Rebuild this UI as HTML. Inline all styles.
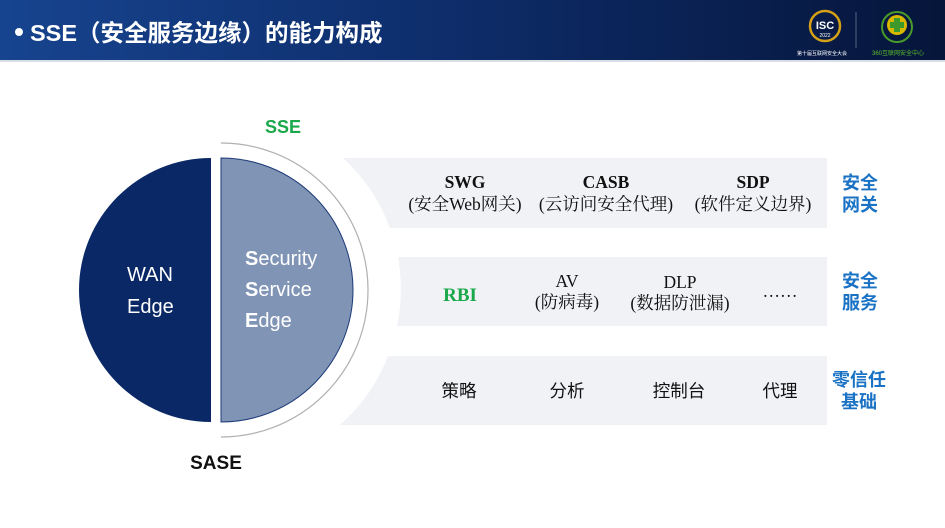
<!DOCTYPE html>
<html><head><meta charset="utf-8"><style>
body{margin:0;width:945px;height:528px;overflow:hidden;background:#fff;font-family:"Liberation Sans","Noto Sans CJK SC",sans-serif}
</style></head><body>
<svg width="945" height="528" xmlns="http://www.w3.org/2000/svg" style="position:absolute;left:0;top:0">
<defs>
<linearGradient id="hd" x1="0" x2="1" y1="0" y2="0">
<stop offset="0" stop-color="#17448f"/><stop offset="0.45" stop-color="#0e2e6c"/><stop offset="1" stop-color="#06153a"/>
</linearGradient>
</defs>
<rect x="0" y="0" width="945" height="60" fill="url(#hd)"/>
<rect x="0" y="60" width="945" height="2" fill="#d8dde6"/>
<circle cx="19" cy="32" r="4" fill="#fff"/>
<text x="30" y="41" fill="#fff" font-size="23.5" font-weight="bold" font-family="Liberation Sans, Noto Sans CJK SC, sans-serif">SSE（安全服务边缘）的能力构成</text>
<circle cx="825" cy="26" r="15" fill="none" stroke="#d4a017" stroke-width="2.5"/>
<text x="825" y="29" fill="#fff" font-size="11" font-weight="bold" text-anchor="middle">ISC</text>
<text x="825" y="37" fill="#fff" font-size="5" text-anchor="middle">2022</text>
<text x="822" y="55" fill="#fff" font-size="5" text-anchor="middle">第十届互联网安全大会</text>
<line x1="856" y1="12" x2="856" y2="48" stroke="#8899aa" stroke-width="0.6"/>
<circle cx="897" cy="27" r="15" fill="none" stroke="#4a9a2a" stroke-width="2"/>
<circle cx="897" cy="25" r="10" fill="#d9b800"/>
<path d="M894 18h6v4h4v6h-4v4h-6v-4h-4v-6h4z" fill="#3d9a2a"/>
<text x="898" y="55" fill="#5cbf2a" font-size="6" text-anchor="middle">360互联网安全中心</text>
<path d="M343,158 L827,158 L827,228 L390,228 A180,180 0 0 0 343,158 Z" fill="#f0f2f6"/>
<path d="M398,257 L827,257 L827,326 L397,326 A180,180 0 0 0 398,257 Z" fill="#f0f2f6"/>
<path d="M388,356 L827,356 L827,425 L340,425 A180,180 0 0 0 388,356 Z" fill="#f0f2f6"/>
<path d="M211,158 A132,132 0 0 0 211,422 Z" fill="#092865"/>
<path d="M221,158 A132,132 0 0 1 221,422 Z" fill="#8094b5" stroke="#1c3a78" stroke-width="1"/>
<path d="M221,143 A147,147 0 0 1 221,437" fill="none" stroke="#b0b0b0" stroke-width="1.2"/>
<g fill="#fff" font-size="20" font-family="Liberation Sans, sans-serif">
<text x="127" y="281">WAN</text><text x="127" y="313">Edge</text>
<text x="245" y="265"><tspan font-weight="bold">S</tspan>ecurity</text>
<text x="245" y="296"><tspan font-weight="bold">S</tspan>ervice</text>
<text x="245" y="327"><tspan font-weight="bold">E</tspan>dge</text>
</g>
<text x="283" y="133" fill="#1aa84a" font-size="18" font-weight="bold" text-anchor="middle">SSE</text>
<text x="216" y="469" fill="#111" font-size="19" font-weight="bold" text-anchor="middle">SASE</text>
<g font-family="Liberation Serif, Noto Serif CJK SC, serif" font-size="17.5" fill="#111" text-anchor="middle">
<text x="465" y="188" font-weight="bold">SWG</text><text x="465" y="210">(安全Web网关)</text>
<text x="606" y="188" font-weight="bold">CASB</text><text x="606" y="210">(云访问安全代理)</text>
<text x="753" y="188" font-weight="bold">SDP</text><text x="753" y="210">(软件定义边界)</text>
<text x="460" y="301" font-weight="bold" fill="#1aa84a" font-size="19">RBI</text>
<text x="567" y="287">AV</text><text x="567" y="308">(防病毒)</text>
<text x="680" y="288">DLP</text><text x="680" y="309">(数据防泄漏)</text>
<text x="780" y="297">……</text>
</g>
<g font-family="Liberation Sans, Noto Sans CJK SC, sans-serif" font-size="17.5" fill="#111" text-anchor="middle">
<text x="459" y="397">策略</text><text x="567" y="397">分析</text><text x="679" y="397">控制台</text><text x="780" y="397">代理</text>
</g>
<g font-family="Liberation Sans, Noto Sans CJK SC, sans-serif" font-size="18" font-weight="bold" fill="#1a72c4" text-anchor="middle">
<text x="860" y="189">安全</text><text x="860" y="211">网关</text>
<text x="860" y="287">安全</text><text x="860" y="309">服务</text>
<text x="859" y="386">零信任</text><text x="859" y="408">基础</text>
</g>
</svg>
</body></html>
